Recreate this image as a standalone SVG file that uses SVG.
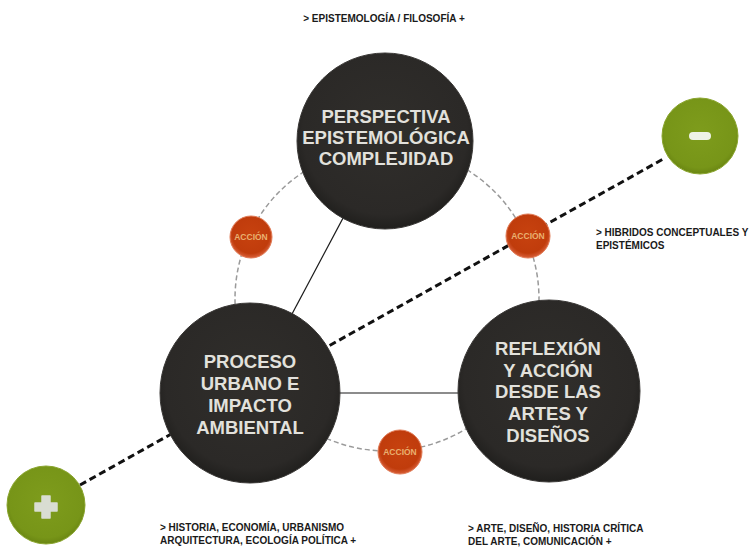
<svg xmlns="http://www.w3.org/2000/svg" width="753" height="547" viewBox="0 0 753 547">
<defs>
<radialGradient id="dark" cx="50%" cy="45%" r="55%">
<stop offset="0" stop-color="#302e2b"/>
<stop offset="0.85" stop-color="#2b2927"/>
<stop offset="1" stop-color="#201f1d"/>
</radialGradient>
<radialGradient id="orange" cx="50%" cy="45%" r="55%">
<stop offset="0" stop-color="#c7420f"/>
<stop offset="0.8" stop-color="#c03c0c"/>
<stop offset="1" stop-color="#d9603a"/>
</radialGradient>
<radialGradient id="green" cx="50%" cy="45%" r="55%">
<stop offset="0" stop-color="#7e9c1c"/>
<stop offset="0.85" stop-color="#779518"/>
<stop offset="1" stop-color="#6a8612"/>
</radialGradient>
<style>
.big{fill:url(#dark);stroke:#3a3836;stroke-width:1}
.bigtxt{font-family:"Liberation Sans",Arial,sans-serif;font-weight:bold;font-size:18.5px;fill:#e2e1dc;text-anchor:middle}
.badge{fill:url(#orange);stroke:#e07a55;stroke-width:1}
.badgetxt{font-family:"Liberation Sans",Arial,sans-serif;font-weight:bold;font-size:8.5px;fill:#e9b070;text-anchor:middle}
.pm{fill:url(#green);stroke:#8aa52e;stroke-width:1}
.lbl{font-family:"Liberation Sans",Arial,sans-serif;font-weight:bold;font-size:10px;fill:#1a1a1a}
</style>
</defs>
<rect width="753" height="547" fill="#ffffff"/>
<g id="connectors">
<circle cx="387" cy="299" r="152" fill="none" stroke="#9a9a9a" stroke-width="1.5" stroke-dasharray="5 3"/>
<line x1="384" y1="141" x2="250" y2="393" stroke="#1a1a1a" stroke-width="1.2"/>
<line x1="250" y1="393" x2="549" y2="393" stroke="#1a1a1a" stroke-width="1.2"/>
<line x1="80" y1="485" x2="665" y2="158" stroke="#111111" stroke-width="3" stroke-dasharray="7 4"/>
</g>
<g id="node-perspectiva">
<circle class="big" cx="385" cy="141" r="88"/>
<text class="bigtxt" x="386" y="123">PERSPECTIVA</text>
<text class="bigtxt" x="386" y="144">EPISTEMOLÓGICA</text>
<text class="bigtxt" x="386" y="165">COMPLEJIDAD</text>
</g>
<g id="node-proceso">
<circle class="big" cx="250" cy="393" r="90"/>
<text class="bigtxt" x="250" y="368">PROCESO</text>
<text class="bigtxt" x="250" y="390">URBANO E</text>
<text class="bigtxt" x="250" y="412">IMPACTO</text>
<text class="bigtxt" x="250" y="434">AMBIENTAL</text>
</g>
<g id="node-reflexion">
<circle class="big" cx="549" cy="391" r="91"/>
<text class="bigtxt" x="548" y="355">REFLEXIÓN</text>
<text class="bigtxt" x="548" y="377">Y ACCIÓN</text>
<text class="bigtxt" x="548" y="398">DESDE LAS</text>
<text class="bigtxt" x="548" y="420">ARTES Y</text>
<text class="bigtxt" x="548" y="442">DISEÑOS</text>
</g>
<g id="badge-accion-1">
<circle class="badge" cx="251" cy="237" r="21"/>
<text class="badgetxt" x="251" y="240">ACCIÓN</text>
</g>
<g id="badge-accion-2">
<circle class="badge" cx="528" cy="236" r="22"/>
<text class="badgetxt" x="528" y="239">ACCIÓN</text>
</g>
<g id="badge-accion-3">
<circle class="badge" cx="400" cy="452" r="22"/>
<text class="badgetxt" x="400" y="455">ACCIÓN</text>
</g>
<g id="node-minus">
<circle class="pm" cx="700" cy="136" r="38"/>
<rect x="689" y="132" width="22" height="8" rx="4" fill="#eef2e6"/>
</g>
<g id="node-plus">
<circle class="pm" cx="46" cy="505" r="39"/>
<path d="M42 496h8v7h7v8h-7v7h-8v-7h-7v-8h7z" fill="#d9ddd2" stroke="#d9ddd2" stroke-width="1.5" stroke-linejoin="round"/>
</g>
<g id="labels">
<text class="lbl" x="384" y="22" text-anchor="middle">&gt; EPISTEMOLOGÍA / FILOSOFÍA +</text>
<text class="lbl" x="596" y="236">&gt; HIBRIDOS CONCEPTUALES Y</text>
<text class="lbl" x="596" y="249">EPISTÉMICOS</text>
<text class="lbl" x="160" y="531">&gt; HISTORIA, ECONOMÍA, URBANISMO</text>
<text class="lbl" x="160" y="544">ARQUITECTURA, ECOLOGÍA POLÍTICA +</text>
<text class="lbl" x="468" y="532">&gt; ARTE, DISEÑO, HISTORIA CRÍTICA</text>
<text class="lbl" x="468" y="545">DEL ARTE, COMUNICACIÓN +</text>
</g>
</svg>
